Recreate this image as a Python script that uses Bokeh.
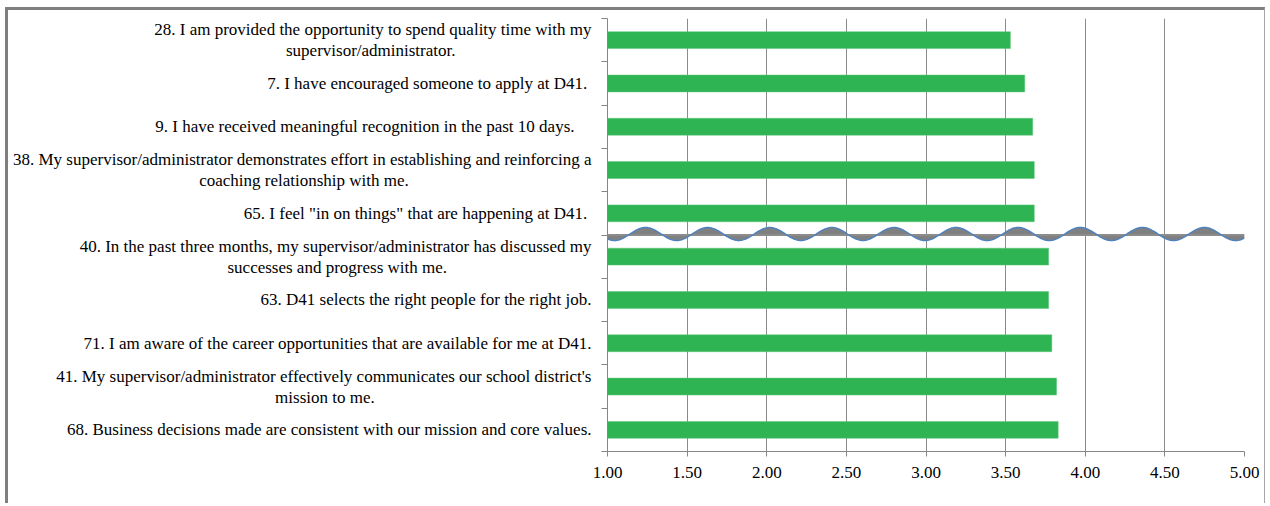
import numpy as np
from bokeh.plotting import figure
from bokeh.models import Range1d, FixedTicker, NumeralTickFormatter
from bokeh.embed import file_html
from bokeh.resources import INLINE

# ---- data (top to bottom as shown) ----
questions = [
    "28. I am provided the opportunity to spend quality time with my\nsupervisor/administrator.",
    "7. I have encouraged someone to apply at  D41.",
    "9. I have received meaningful recognition in the past 10 days.    ",
    "38. My supervisor/administrator demonstrates effort in establishing and reinforcing a\ncoaching relationship with me.",
    "65. I feel \"in on things\" that are happening at  D41.",
    "40. In the past three months, my supervisor/administrator has discussed my\nsuccesses and progress with me.",
    "63. D41 selects the right people for the right job.",
    "71. I am aware of the career opportunities that are available for me at D41.",
    "41. My supervisor/administrator effectively communicates our school district's\nmission to me.",
    "68. Business decisions made are consistent with our mission and core values.",
]
scores = [3.53, 3.62, 3.67, 3.68, 3.68, 3.77, 3.77, 3.79, 3.82, 3.83]
x_ticks = [1.00, 1.50, 2.00, 2.50, 3.00, 3.50, 4.00, 4.50, 5.00]

# trailing padding (in spaces) so that wrapped second lines sit centred under the first
second_line_pad = [32, 0, 0, 43, 0, 34, 0, 0, 51, 0]


def centred(label, pad):
    if "\n" not in label or pad == 0:
        return label
    first, second = label.split("\n", 1)
    return first + "\n" + second + " " * pad


n = len(questions)
centers = [n - i - 0.5 for i in range(n)]
boundaries = list(range(n + 1))
x_min, x_max = x_ticks[0], x_ticks[-1]

p = figure(
    width=1260, height=496,
    x_range=Range1d(x_min, x_max), y_range=Range1d(0, n),
    output_backend="svg", toolbar_location=None,
    min_border_left=599, min_border_right=24, min_border_top=8, min_border_bottom=55,
)
p.styles = {
    "margin-left": "5px",
    "margin-top": "7px",
    "border-top": "3px solid #7f7f7f",
    "border-left": "3px solid #7f7f7f",
    "border-right": "1px solid #a6a6a6",
}
p.outline_line_color = None
p.background_fill_color = "white"
p.border_fill_color = "white"

p.hbar(y=centers, left=x_min, right=scores, height=0.39,
       fill_color="#2EB453", line_color="#5FC77A", line_width=0.5)

# decorative axis-break wave between the 5th and 6th items
break_y = n // 2
wx = np.linspace(x_min, x_max, 800)
period = 0.39
amp = 0.15
wy = break_y + 0.023 - amp * np.cos(2 * np.pi * (wx - 1.044) / period)
p.varea(x=wx, y1=break_y, y2=wy, fill_color="#808080")
p.line([x_min, x_max], [break_y, break_y], line_color="#8c8c8c", line_width=2)
p.line(wx, wy, line_color="#4F81BD", line_width=1.5)

# grid
p.ygrid.visible = False
p.xgrid.ticker = FixedTicker(ticks=x_ticks)
p.xgrid.grid_line_color = "#8c8c8c"
p.xgrid.grid_line_width = 1

# x axis
xa = p.xaxis[0]
xa.ticker = FixedTicker(ticks=x_ticks)
xa.formatter = NumeralTickFormatter(format="0.00")
xa.axis_line_color = "#868686"
xa.major_tick_line_color = "#868686"
xa.major_tick_out = 5
xa.major_tick_in = 0
xa.minor_tick_out = 0
xa.major_label_standoff = 10
xa.major_label_text_font = "Liberation Serif"
xa.major_label_text_font_size = "17px"
xa.major_label_text_color = "black"

# y axis
ya = p.yaxis[0]
ya.ticker = FixedTicker(ticks=centers, minor_ticks=boundaries)
ya.major_label_overrides = {c: centred(q, pad) for c, q, pad in zip(centers, questions, second_line_pad)}
ya.axis_line_color = "#868686"
ya.major_tick_out = 0
ya.major_tick_in = 0
ya.minor_tick_out = 6
ya.minor_tick_in = 0
ya.minor_tick_line_color = "#868686"
ya.major_label_standoff = 10
ya.major_label_text_font = "Liberation Serif"
ya.major_label_text_font_size = "17px"
ya.major_label_text_line_height = 1.1
ya.major_label_text_color = "black"

open("out.html", "w").write(file_html(p, INLINE))
